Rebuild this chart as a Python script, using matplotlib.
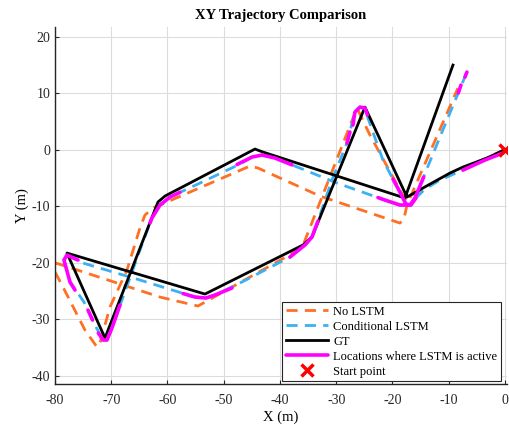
import matplotlib
matplotlib.use('Agg')
import matplotlib.pyplot as plt

plt.rcParams['font.family'] = ['Liberation Serif', 'DejaVu Serif']
plt.rcParams['axes.unicode_minus'] = False

# ground truth trajectory (m)
gt_x = [0.0, -3.2, -7.47, -9.78, -14.58, -17.42, -24.89, -34.31, -35.91, -53.33,
        -77.87, -71.11, -61.69, -60.44, -44.44, -43.02, -17.78, -9.24]
gt_y = [0.0, -1.5, -3.1, -4.16, -6.81, -8.41, 7.52, -15.49, -16.9, -25.58,
        -18.32, -33.36, -9.29, -8.23, 0.09, -0.44, -8.58, 14.96]

# estimate without LSTM
nolstm_x = [0.0, -3.2, -7.47, -9.78, -14.58, -17.78, -24.0, -26.31, -36.09, -54.58,
            -61.33, -79.82, -80.0, -78.76, -74.67, -72.53, -72.0, -70.22, -67.2,
            -64.89, -64.0, -62.58, -61.33, -45.33, -43.91, -32.89, -18.67, -17.96,
            -17.42, -8.36]
nolstm_y = [0.0, -1.5, -3.27, -4.34, -6.99, -8.76, 2.57, 7.35, -17.43, -27.7,
            -26.11, -20.09, -21.68, -23.98, -31.95, -34.96, -34.25, -27.88, -21.33,
            -13.89, -11.59, -10.35, -9.82, -2.92, -3.27, -8.23, -13.01, -12.3,
            -9.82, 10.88]

# estimate with conditional LSTM
cond_x = [0.0, -3.56, -7.47, -11.56, -14.22, -15.82, -16.71, -17.6, -18.67, -19.91,
          -21.69, -24.36, -24.89, -25.78, -26.67, -28.09, -30.76, -33.24, -34.31,
          -35.56, -38.22, -47.11, -51.56, -53.16, -55.11, -64.89, -75.02, -77.87,
          -78.4, -77.33, -74.84, -72.89, -71.47, -70.76, -69.87, -68.09, -64.89,
          -62.76, -61.33, -59.56, -54.22, -47.11, -44.98, -43.2, -40.89, -39.11,
          -29.87, -21.33, -18.67, -16.89, -16.0, -11.56, -6.76]
cond_y = [0.0, -1.86, -3.63, -5.4, -6.99, -8.58, -9.82, -9.65, -7.52, -5.22,
          -1.86, 5.58, 7.35, 7.52, 6.64, 1.15, -5.4, -12.65, -15.49,
          -16.9, -19.03, -23.63, -25.75, -26.28, -26.11, -23.1, -20.09, -18.67,
          -19.56, -23.45, -26.99, -31.06, -33.72, -33.72, -31.59, -26.64, -17.79,
          -12.12, -9.82, -8.41, -5.93, -2.57, -1.33, -0.97, -1.5, -2.21,
          -5.93, -8.94, -9.82, -9.82, -8.58, 2.21, 13.72]

# stretches where the LSTM is active
active_segments = [
    ([-0.36, -3.56, -7.47], [-0.62, -1.86, -3.63]),
    ([-15.82, -16.71, -17.6, -18.67, -19.91], [-8.58, -9.82, -9.65, -7.52, -5.22]),
    ([-24.44, -24.89, -25.78, -26.67, -27.02], [6.11, 7.35, 7.52, 6.64, 4.34]),
    ([-27.56, -28.09], [3.1, 1.15]),
    ([-33.24, -34.31, -35.56, -38.22], [-12.65, -15.49, -16.9, -19.03]),
    ([-48.53, -51.56, -53.16, -55.11, -57.24], [-24.51, -25.75, -26.28, -26.11, -25.49]),
    ([-75.91, -77.87, -78.4, -77.33, -76.44], [-19.56, -18.67, -19.56, -23.45, -24.87]),
    ([-74.13, -73.32], [-28.41, -30.18]),
    ([-72.3, -71.47, -70.76, -69.87, -68.44], [-32.48, -33.72, -33.72, -31.59, -27.52]),
    ([-63.1, -62.76, -61.33, -59.56, -57.78], [-13.01, -12.12, -9.82, -8.41, -7.57]),
    ([-47.64, -44.98, -43.2, -40.89, -39.11, -37.87], [-2.65, -1.33, -0.97, -1.5, -2.21, -2.71]),
    ([-22.58, -21.33, -18.67, -16.89, -16.0, -14.45], [-8.5, -8.94, -9.82, -9.82, -8.58, -4.87]),
    ([-8.3, -7.82], [10.0, 11.42]),
    ([-7.11, -6.76], [12.83, 13.72]),
]

start_x = [0.0]
start_y = [0.0]

fig = plt.figure(figsize=(5.09, 4.25), dpi=100)
ax = fig.add_axes([0.108, 0.0965, 0.888, 0.84])

orange = '#FF6F24'
blue = '#3CB0F0'

ax.plot(nolstm_x, nolstm_y, '--', color=orange, lw=2.0, dashes=(4, 2.6), label='No LSTM')
ax.plot(cond_x, cond_y, '--', color=blue, lw=2.0, dashes=(4, 2.6), label='Conditional LSTM')
ax.plot(gt_x, gt_y, '-', color='black', lw=2.0, label='GT')
for i, (sx, sy) in enumerate(active_segments):
    ax.plot(sx, sy, '-', color='#FF00FF', lw=2.6, solid_capstyle='round',
            label='Locations where LSTM is active' if i == 0 else None)
ax.plot(start_x, start_y, 'x', color='red', ms=9, mew=2.5, label='Start point')

ax.set_xlim(-80, 0.36)
ax.set_ylim(-41.5, 21.7)
ax.set_xticks(range(-80, 1, 10))
ax.set_yticks(range(-40, 21, 10))
ax.tick_params(direction='in', length=3, labelsize=10, colors='#262626')
ax.tick_params(axis='x', pad=7)
ax.grid(True, color='#DCDCDC', lw=0.8)
ax.set_axisbelow(True)
for s in ['top', 'right']:
    ax.spines[s].set_visible(False)
for s in ['left', 'bottom']:
    ax.spines[s].set_color('#262626')
    ax.spines[s].set_linewidth(1.0)

ax.set_title('XY Trajectory Comparison', fontsize=10.5, fontweight='bold', pad=6)
ax.set_xlabel('X (m)', fontsize=10.5, labelpad=3)
ax.set_ylabel('Y (m)', fontsize=10.5, labelpad=2)

leg = ax.legend(loc='lower right', bbox_to_anchor=(0.992, 0.0), fontsize=9,
                handlelength=3.4, labelspacing=0.24, borderaxespad=0.2,
                fancybox=False, framealpha=1, edgecolor='#262626',
                borderpad=0.3, handletextpad=0.4)
leg.get_frame().set_linewidth(0.8)

fig.savefig('out.png', dpi=100)
